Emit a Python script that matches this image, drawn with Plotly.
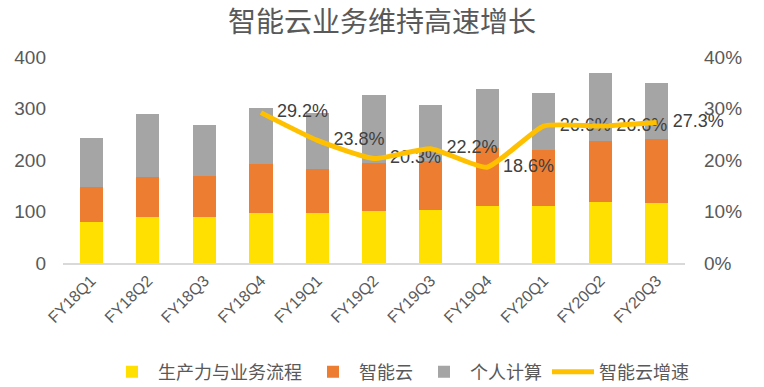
import plotly.graph_objects as go

categories = ["FY18Q1", "FY18Q2", "FY18Q3", "FY18Q4", "FY19Q1", "FY19Q2",
              "FY19Q3", "FY19Q4", "FY20Q1", "FY20Q2", "FY20Q3"]
productivity = [79.2, 89.5, 90.1, 96.7, 97.7, 101.0, 102.4, 110.0, 110.8, 118.3, 117.4]
cloud = [69.2, 78.0, 79.0, 96.1, 85.7, 94.0, 96.5, 113.9, 108.5, 119.0, 123.0]
personal = [93.8, 121.7, 99.2, 108.0, 107.5, 130.4, 107.0, 113.5, 110.0, 131.8, 109.6]
cloud_growth = [None, None, None, 0.292, 0.238, 0.203, 0.222, 0.186, 0.266, 0.266, 0.273]
growth_labels = [None if v is None else f"{v*100:.1f}%" for v in cloud_growth]

FONT = "Liberation Sans, Arial, Noto Sans CJK SC"
GRAY_TXT = "#595959"

fig = go.Figure()
fig.add_trace(go.Bar(x=categories, y=productivity, name="生产力与业务流程",
                     marker_color="#FFE000", marker_line_width=0))
fig.add_trace(go.Bar(x=categories, y=cloud, name="智能云",
                     marker_color="#ED7D31", marker_line_width=0))
fig.add_trace(go.Bar(x=categories, y=personal, name="个人计算",
                     marker_color="#A5A5A5", marker_line_width=0))
# data labels (drawn under the line, as in the reference)
fig.add_trace(go.Scatter(x=categories, y=cloud_growth, yaxis="y2", mode="markers+text",
                         text=growth_labels, textposition="middle right",
                         marker=dict(size=24, opacity=0), cliponaxis=False,
                         textfont=dict(family=FONT, size=18, color="#404040"),
                         showlegend=False, hoverinfo="skip"))
fig.add_trace(go.Scatter(x=categories, y=cloud_growth, name="智能云增速", yaxis="y2",
                         mode="lines", line=dict(color="#FFC000", width=5,
                                                 shape="spline", smoothing=0.5)))

fig.update_layout(
    width=764, height=387,
    barmode="stack", bargap=0.59,
    plot_bgcolor="white", paper_bgcolor="white",
    margin=dict(l=63, r=79, t=57, b=124),
    font=dict(family=FONT, color=GRAY_TXT),
    title=dict(text="智能云业务维持高速增长", x=0.5, xanchor="center",
               y=1 - 22 / 387, yanchor="middle",
               font=dict(family=FONT, size=28, color=GRAY_TXT)),
    xaxis=dict(range=[-0.5, len(categories) - 0.5],
               tickangle=-45, tickfont=dict(size=16, color=GRAY_TXT),
               showline=True, linecolor="#D9D9D9", linewidth=2,
               showgrid=False, ticks="", automargin=False),
    yaxis=dict(range=[0, 400], tickvals=[0, 100, 200, 300, 400],
               showgrid=False, zeroline=False, showline=False, automargin=False,
               tickfont=dict(size=19, color=GRAY_TXT), ticklabelstandoff=16),
    yaxis2=dict(range=[0, 0.4], tickvals=[0, 0.1, 0.2, 0.3, 0.4], tickformat=".0%",
                overlaying="y", side="right", showgrid=False, zeroline=False,
                showline=False, automargin=False,
                tickfont=dict(size=19, color=GRAY_TXT), ticklabelstandoff=18),
    legend=dict(orientation="h", xref="container", x=400 / 764, xanchor="center",
                yref="container", y=1 - 372 / 387, yanchor="middle",
                font=dict(family=FONT, size=18, color=GRAY_TXT),
                itemwidth=42, traceorder="normal"),
)

fig.write_html("out.html", config={"displayModeBar": False},
               post_script="document.body.style.margin='0';")
